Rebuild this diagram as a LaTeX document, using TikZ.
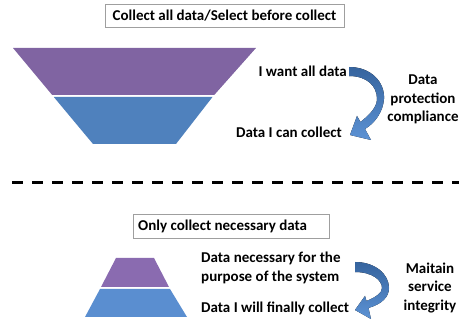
\documentclass[tikz,border=0pt]{standalone}
\usepackage{fontspec}
\setmainfont{Carlito}
\definecolor{fpurple}{HTML}{8064A2}
\definecolor{fblue}{HTML}{4F81BD}
\definecolor{fpurple2}{HTML}{8A6BB0}
\definecolor{fblue2}{HTML}{5A8ED0}
\definecolor{adark}{HTML}{36649E}
\definecolor{alight}{HTML}{5C92D4}
\tikzset{
  lbl/.style={font=\fontsize{15}{18.5}\selectfont\bfseries, inner sep=0pt},
  titlebox/.style={draw=gray!75, line width=0.8pt, font=\fontsize{15}{18}\selectfont\bfseries},
  curvarrow/.style={top color=adark, bottom color=alight, draw=none},
}
\begin{document}
\begin{tikzpicture}[x=1pt,y=-1pt]
\useasboundingbox (0,0) rectangle (459,320);
% top title box
\node[titlebox, minimum width=239pt, minimum height=23pt, inner sep=0pt] (t1) at (224.5,15.5) {Collect all data/Select before collect};
% top funnel
\fill[fpurple] (13,48) -- (256,48) -- (214.2,95) -- (52.2,95) -- cycle;
\fill[fblue] (53.8,97) -- (212.5,97) -- (176,144) -- (93,144) -- cycle;
% labels
\node[lbl, anchor=east] (want) at (347,71) {I want all data};
\node[lbl, anchor=east] (can) at (342,132) {Data I can collect};
\node[lbl, align=center] (dpc) at (423,99.5) {Data\\protection\\compliance};
% top curved arrow
\fill[curvarrow] (349,67) .. controls (371,67) and (385,82) .. (384,99) .. controls (383,112) and (375,123) .. (365,129) -- (371,140) -- (350,135) -- (357,116) -- (360.5,122) .. controls (368,116) and (377,108) .. (377,99) .. controls (377,86) and (367,76) .. (349,76) -- cycle;
% dashed separator
\draw[line width=3pt, dash pattern=on 11pt off 9pt] (12,183) -- (459,183);
% bottom title box
\node[titlebox, minimum width=196pt, minimum height=24pt, inner sep=0pt] (t2) at (231,226) {};
\node[lbl, anchor=west] (t2text) at (138,226) {Only collect necessary data};
% pyramid
\fill[fpurple2] (116,258) -- (154,258) -- (169,287) -- (101,287) -- cycle;
\fill[fblue2] (100,289) -- (170,289) -- (187,317) -- (85,317) -- cycle;
% labels
\node[lbl, anchor=west, align=left] (nec) at (201,268) {Data necessary for the\\purpose of the system};
\node[lbl, anchor=west] (fin) at (201,308) {Data I will finally collect};
\node[lbl, align=center] (msi) at (430,288) {Maitain\\service\\integrity};
% bottom curved arrow
\fill[curvarrow] (355,262) .. controls (375,262) and (389,274) .. (389,288) .. controls (389,297) and (382,304) .. (368.5,308) -- (371,319) -- (355,310) -- (365,296) -- (366.5,301) .. controls (376,297) and (382,293) .. (382,288) .. controls (382,280) and (372,272) .. (355,272) -- cycle;
\end{tikzpicture}
\end{document}
